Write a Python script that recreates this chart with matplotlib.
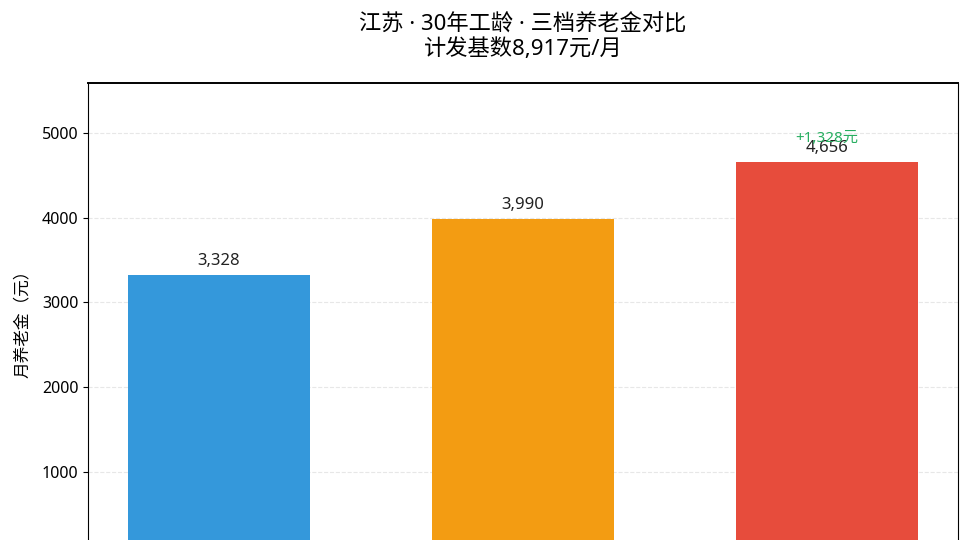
import matplotlib
matplotlib.use("Agg")
import matplotlib.pyplot as plt

plt.rcParams["font.family"] = ["Noto Sans", "Noto Sans CJK SC", "DejaVu Sans"]

# data
pension = [3328, 3990, 4656]
colors = ["#3498db", "#f39c12", "#e74c3c"]
gain_text = "+1,328元"
yticks = [1000, 2000, 3000, 4000, 5000]

fig = plt.figure(figsize=(9.6, 5.4), dpi=100)
# the reference is cropped at the bottom, so the axes run past the figure edge
ax = fig.add_axes([88 / 960, -17 / 540, 870 / 960, 474 / 540])

x = list(range(len(pension)))
ax.bar(x, pension, width=0.6, color=colors)

for xi, v in zip(x, pension):
    ax.text(xi, v + 70, f"{v:,}", ha="center", va="bottom", fontsize=12, color="#222222")

ax.text(x[-1], pension[-1] + 190, gain_text, ha="center", va="bottom",
        fontsize=11, color="#27ae60")

ax.set_ylim(0, max(pension) * 1.2)
ax.set_yticks(yticks)
ax.set_xticks(x)
ax.set_xticklabels([])
ax.set_ylabel("月养老金（元）", fontsize=12, labelpad=8)
ax.tick_params(axis="y", labelsize=11.5)
ax.grid(axis="y", linestyle="--", alpha=0.3)
ax.set_axisbelow(True)
ax.spines["top"].set_linewidth(1.4)

ax.set_title("江苏 · 30年工龄 · 三档养老金对比\n计发基数8,917元/月", fontsize=16, pad=20,
             linespacing=1.2)

fig.savefig("out.png", dpi=100)
